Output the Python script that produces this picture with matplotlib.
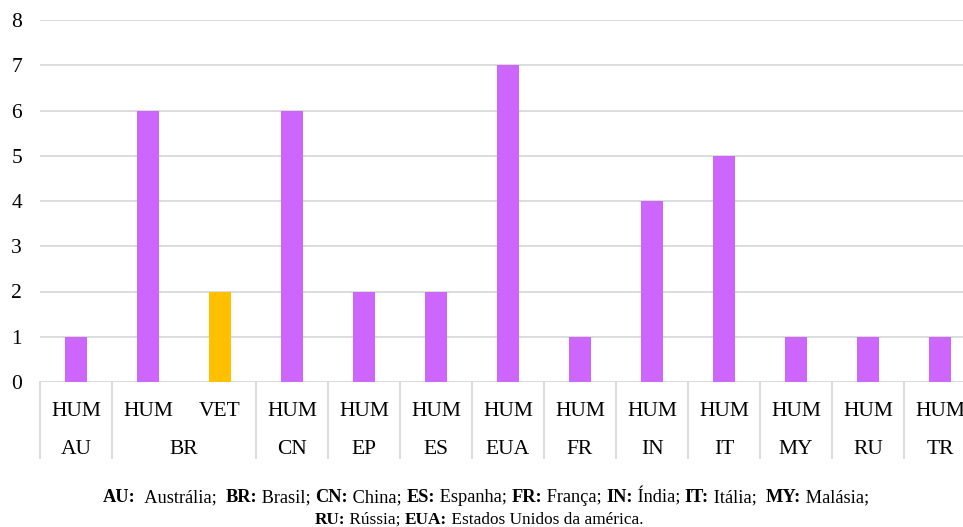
import matplotlib
matplotlib.use("Agg")
import matplotlib.pyplot as plt
import matplotlib.transforms as mtransforms

plt.rcParams["font.family"] = ["Liberation Serif", "DejaVu Serif"]

# one bar per (country, host) pair
bar_country = ["AU", "BR", "BR", "CN", "EP", "ES", "EUA", "FR", "IN", "IT", "MY", "RU", "TR"]
bar_type = ["HUM", "HUM", "VET", "HUM", "HUM", "HUM", "HUM", "HUM", "HUM", "HUM", "HUM", "HUM", "HUM"]
counts = [1, 6, 2, 6, 2, 2, 7, 1, 4, 5, 1, 1, 1]

type_colors = {"HUM": "#CC66FF", "VET": "#FFC000"}
grid_gray = "#D9D9D9"

caption_1 = [("AU:", True), ("  Austrália;  ", False), ("BR:", True), (" Brasil; ", False),
             ("CN:", True), (" China; ", False), ("ES:", True), (" Espanha; ", False),
             ("FR:", True), (" França; ", False), ("IN:", True), (" Índia; ", False),
             ("IT:", True), (" Itália;  ", False), ("MY:", True), (" Malásia;", False)]
caption_2 = [("RU:", True), (" Rússia; ", False), ("EUA:", True), (" Estados Unidos da américa.", False)]

W, H = 963, 527
fig = plt.figure(figsize=(W / 100, H / 100), dpi=100)
left, right, top, bottom = 40, 963, 20, 382
ax = fig.add_axes([left / W, 1 - bottom / H, (right - left) / W, (bottom - top) / H])

slot = 72.0
x = list(range(len(counts)))
ax.bar(x, counts, width=0.31, color=[type_colors[t] for t in bar_type], zorder=3)
ax.set_xlim(-0.5, -0.5 + (right - left) / slot)
ax.set_ylim(0, 8)
ax.set_yticks(range(9))
ax.yaxis.grid(True, color=grid_gray, linewidth=1.3, zorder=0)
ax.set_xticks([])
for s in ax.spines.values():
    s.set_visible(False)
ax.tick_params(axis="y", length=0, pad=13, labelsize=15.5)

# two-level category axis
trans = mtransforms.blended_transform_factory(ax.transData, ax.transAxes)
row1 = -(416 - bottom) / (bottom - top)
row2 = -(454 - bottom) / (bottom - top)
line_end = -(458 - bottom) / (bottom - top)
for xi, t in zip(x, bar_type):
    ax.text(xi, row1, t, transform=trans, ha="center", va="baseline", fontsize=15.5, clip_on=False)

groups = []
for i, c in enumerate(bar_country):
    if groups and groups[-1][0] == c:
        groups[-1][2] = i
    else:
        groups.append([c, i, i])
for c, a, b in groups:
    ax.text((a + b) / 2, row2, c, transform=trans, ha="center", va="baseline", fontsize=15.5, clip_on=False)
bounds = [g[1] - 0.5 for g in groups] + [groups[-1][2] + 0.5]
for bx in bounds:
    ax.plot([bx, bx], [0, line_end], transform=trans, color=grid_gray, linewidth=1.3, clip_on=False)

# caption with bold country codes
renderer = fig.canvas.get_renderer()


def caption_line(parts, y_px, size, cx):
    texts = []
    for s, bold in parts:
        t = fig.text(0, 1 - y_px / H, s, fontsize=size, fontweight="bold" if bold else "normal",
                     va="baseline", ha="left")
        texts.append(t)
    widths = [t.get_window_extent(renderer).width for t in texts]
    x0 = cx - sum(widths) / 2
    for t, w in zip(texts, widths):
        t.set_x(x0 / W)
        x0 += w


caption_line(caption_1, 502, 13.2, 486)
caption_line(caption_2, 524, 12.4, 479)

fig.savefig("out.png", dpi=100)
